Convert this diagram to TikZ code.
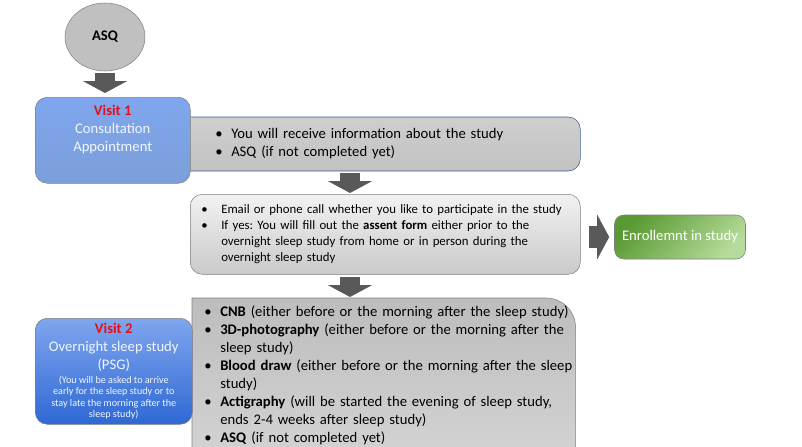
\documentclass[tikz,border=0pt]{standalone}
\usepackage{fontspec}
\setmainfont{Carlito}
\usetikzlibrary{arrows.meta,shapes.geometric,backgrounds}
\frenchspacing

\newdimen\pxu \pxu=0.75pt
\newcommand{\bitem}[2][16]{\mbox{\makebox[#1\pxu][l]{\textbullet}#2}}
\newcommand{\bcont}[2][16]{\mbox{\hspace*{#1\pxu}#2}}

\definecolor{arrowgray}{HTML}{595959}
\definecolor{boxline}{HTML}{808080}
\definecolor{infoline}{HTML}{3A5B9A}
\definecolor{asqgray}{HTML}{C0C0C0}
\definecolor{visitred}{HTML}{E3101B}
\definecolor{visittext}{HTML}{F2F6FF}
\definecolor{bluetop}{HTML}{7FA6EE}
\definecolor{bluemid}{HTML}{2A64D0}
\definecolor{bluebot}{HTML}{7C9FD9}
\definecolor{bluedeep}{HTML}{2F68D4}
\definecolor{greentop}{HTML}{5A9A33}
\definecolor{greenbot}{HTML}{B5DB9A}

\begin{document}
\begin{tikzpicture}[x=0.75pt,y=-0.75pt,
  every node/.style={font=\fontsize{11}{13.5}\selectfont, inner sep=0pt},
  visitbox/.style={draw=boxline, rounded corners=9pt, text=visittext},
  greybox/.style={draw=boxline, rounded corners=9pt, align=left},
  blockarrow/.style={draw=arrowgray, line width=15pt, -{Triangle[length=9pt,width=33pt]}}]
	\useasboundingbox (0,0) rectangle (802,446);
	\coordinate (arrowx) at (350,0);
	% start
	\node[draw=boxline, fill=asqgray, ellipse, minimum width=80\pxu, minimum height=68\pxu, font=\fontsize{11}{13.5}\selectfont\bfseries] (asq) at (105,37) {ASQ};
	% visit 1
	\node[greybox, draw=infoline, top color=black!19, bottom color=black!24, anchor=west, minimum height=54\pxu, text width=320\pxu, inner xsep=45\pxu] (info) at (170,144)
		{\bitem{You will receive information about the study}\\ \bitem{ASQ (if not completed yet)}};
	\node[visitbox, top color=bluetop, middle color=bluemid, bottom color=bluebot, anchor=north west] (visit1) at (35,97)
		{\parbox[c][86\pxu][t]{155\pxu}{\centering\vspace*{8\pxu}{\bfseries\color{visitred}Visit 1}\par Consultation\par Appointment\par}};
	% consent
	\node[greybox, top color=black!5, bottom color=black!21, anchor=north west, minimum height=80\pxu, text width=368\pxu, inner xsep=11\pxu, font=\fontsize{9.6}{12}\selectfont] (email) at (190,194)
		{\bitem[20]{Email or phone call whether you like to participate in the study}\\
		 \bitem[20]{If yes: You will fill out the \textbf{assent form} either prior to the}\\
		 \bcont[20]{overnight sleep study from home or in person during the}\\
		 \bcont[20]{overnight sleep study}};
	\node[draw=boxline, rounded corners=7pt, shading=axis, left color=greentop, right color=greenbot, shading angle=45, minimum width=131\pxu, minimum height=44\pxu, text=white] (enroll) at (680,237) {Enrollemnt in study};
	% visit 2
	\node[visitbox, top color=bluetop, bottom color=bluedeep, anchor=north west, minimum height=106\pxu] (visit2) at (35,318)
		{\parbox{157\pxu}{\centering{\bfseries\color{visitred}Visit 2}\par Overnight sleep study\par (PSG)\par\vspace{2pt}
		 \fontsize{7.6}{8.5}\selectfont (You will be asked to arrive\\ early for the sleep study or to\\ stay late the morning after the\\ sleep study)\par}};
	\node[align=left, anchor=north west, text width=359\pxu, inner xsep=12\pxu, inner ysep=7\pxu] (tasks) at (192,298)
		{\bitem{\textbf{CNB} (either before or the morning after the sleep study)}\\
		 \bitem{\textbf{3D-photography} (either before or the morning after the}\\
		 \bcont{sleep study)}\\
		 \bitem{\textbf{Blood draw} (either before or the morning after the sleep}\\
		 \bcont{study)}\\
		 \bitem{\textbf{Actigraphy} (will be started the evening of sleep study,}\\
		 \bcont{ends 2-4 weeks after sleep study)}\\
		 \bitem{\textbf{ASQ} (if not completed yet)}};
	\begin{scope}[on background layer]
		\clip (0,0) rectangle (802,446);
		\shadedraw[draw=boxline, top color=black!26, bottom color=black!16] (tasks.north west) -- ([xshift=-22pt]tasks.north east)
			arc[start angle=90, end angle=0, radius=22pt] -- ([yshift=-20pt]tasks.south east) -- ([yshift=-20pt]tasks.south west) -- cycle;
	\end{scope}
	% arrows
	\draw[blockarrow, shorten <=2\pxu, shorten >=4\pxu] (asq.south) -- (asq.south |- visit1.north);
	\draw[blockarrow, shorten <=2\pxu, shorten >=1\pxu] (info.south -| arrowx) -- (email.north -| arrowx);
	\draw[blockarrow, shorten <=2\pxu, shorten >=1\pxu] (email.south -| arrowx) -- (tasks.north -| arrowx);
	\draw[blockarrow, line width=16pt, shorten <=8\pxu, shorten >=5\pxu] (email.east |- enroll.west) -- (enroll.west);
\end{tikzpicture}
\end{document}
